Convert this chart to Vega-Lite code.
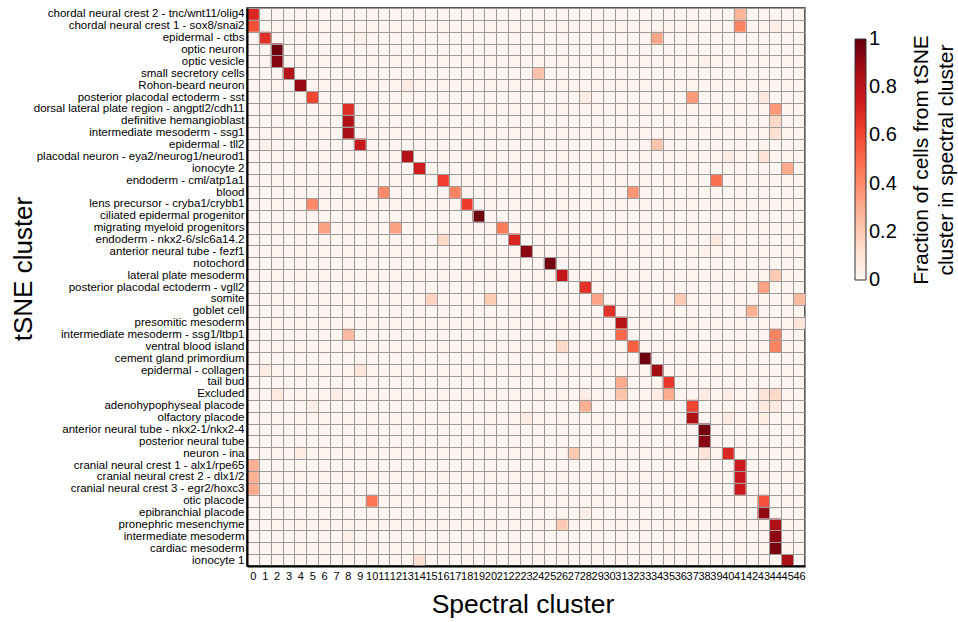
{
  "$schema": "https://vega.github.io/schema/vega-lite/v6.json",
  "width": 558,
  "height": 558,
  "autosize": "none",
  "padding": {"left": 247, "top": 8, "right": 153, "bottom": 56},
  "background": "white",
  "config": {
    "font": "Liberation Sans",
    "view": {"fill": "#fff5f0", "stroke": "#222222", "strokeWidth": 1.5},
    "axis": {"labelColor": "black", "titleColor": "black", "titleFontWeight": "normal"}
  },
  "data": {"values": [
    {"tsne":"chordal neural crest 2 - tnc/wnt11/olig4","spectral":0,"fraction":0.70},
    {"tsne":"chordal neural crest 2 - tnc/wnt11/olig4","spectral":41,"fraction":0.27},
    {"tsne":"chordal neural crest 1 - sox8/snai2","spectral":0,"fraction":0.58},
    {"tsne":"chordal neural crest 1 - sox8/snai2","spectral":41,"fraction":0.42},
    {"tsne":"chordal neural crest 1 - sox8/snai2","spectral":44,"fraction":0.04},
    {"tsne":"epidermal - ctbs","spectral":1,"fraction":0.67},
    {"tsne":"epidermal - ctbs","spectral":9,"fraction":0.03},
    {"tsne":"epidermal - ctbs","spectral":34,"fraction":0.32},
    {"tsne":"optic neuron","spectral":2,"fraction":0.98},
    {"tsne":"optic vesicle","spectral":2,"fraction":0.94},
    {"tsne":"optic vesicle","spectral":38,"fraction":0.03},
    {"tsne":"small secretory cells","spectral":3,"fraction":0.82},
    {"tsne":"small secretory cells","spectral":24,"fraction":0.23},
    {"tsne":"Rohon-beard neuron","spectral":4,"fraction":0.9},
    {"tsne":"Rohon-beard neuron","spectral":13,"fraction":0.06},
    {"tsne":"posterior placodal ectoderm - sst","spectral":5,"fraction":0.6},
    {"tsne":"posterior placodal ectoderm - sst","spectral":28,"fraction":0.05},
    {"tsne":"posterior placodal ectoderm - sst","spectral":37,"fraction":0.35},
    {"tsne":"posterior placodal ectoderm - sst","spectral":43,"fraction":0.07},
    {"tsne":"dorsal lateral plate region - angptl2/cdh11","spectral":8,"fraction":0.68},
    {"tsne":"dorsal lateral plate region - angptl2/cdh11","spectral":44,"fraction":0.36},
    {"tsne":"definitive hemangioblast","spectral":8,"fraction":0.84},
    {"tsne":"definitive hemangioblast","spectral":44,"fraction":0.15},
    {"tsne":"intermediate mesoderm - ssg1","spectral":8,"fraction":0.87},
    {"tsne":"intermediate mesoderm - ssg1","spectral":44,"fraction":0.12},
    {"tsne":"epidermal - tll2","spectral":1,"fraction":0.03},
    {"tsne":"epidermal - tll2","spectral":9,"fraction":0.76},
    {"tsne":"epidermal - tll2","spectral":34,"fraction":0.22},
    {"tsne":"placodal neuron - eya2/neurog1/neurod1","spectral":13,"fraction":0.83},
    {"tsne":"placodal neuron - eya2/neurog1/neurod1","spectral":40,"fraction":0.05},
    {"tsne":"placodal neuron - eya2/neurog1/neurod1","spectral":43,"fraction":0.11},
    {"tsne":"ionocyte 2","spectral":14,"fraction":0.74},
    {"tsne":"ionocyte 2","spectral":45,"fraction":0.3},
    {"tsne":"endoderm - cml/atp1a1","spectral":16,"fraction":0.62},
    {"tsne":"endoderm - cml/atp1a1","spectral":39,"fraction":0.48},
    {"tsne":"blood","spectral":11,"fraction":0.4},
    {"tsne":"blood","spectral":17,"fraction":0.42},
    {"tsne":"blood","spectral":32,"fraction":0.37},
    {"tsne":"lens precursor - cryba1/crybb1","spectral":5,"fraction":0.4},
    {"tsne":"lens precursor - cryba1/crybb1","spectral":18,"fraction":0.63},
    {"tsne":"ciliated epidermal progenitor","spectral":19,"fraction":0.98},
    {"tsne":"migrating myeloid progenitors","spectral":6,"fraction":0.33},
    {"tsne":"migrating myeloid progenitors","spectral":12,"fraction":0.33},
    {"tsne":"migrating myeloid progenitors","spectral":21,"fraction":0.45},
    {"tsne":"endoderm - nkx2-6/slc6a14.2","spectral":16,"fraction":0.15},
    {"tsne":"endoderm - nkx2-6/slc6a14.2","spectral":22,"fraction":0.7},
    {"tsne":"endoderm - nkx2-6/slc6a14.2","spectral":39,"fraction":0.08},
    {"tsne":"anterior neural tube - fezf1","spectral":23,"fraction":0.92},
    {"tsne":"anterior neural tube - fezf1","spectral":38,"fraction":0.03},
    {"tsne":"notochord","spectral":25,"fraction":0.97},
    {"tsne":"lateral plate mesoderm","spectral":26,"fraction":0.78},
    {"tsne":"lateral plate mesoderm","spectral":44,"fraction":0.2},
    {"tsne":"posterior placodal ectoderm - vgll2","spectral":28,"fraction":0.66},
    {"tsne":"posterior placodal ectoderm - vgll2","spectral":43,"fraction":0.33},
    {"tsne":"somite","spectral":15,"fraction":0.17},
    {"tsne":"somite","spectral":20,"fraction":0.2},
    {"tsne":"somite","spectral":29,"fraction":0.32},
    {"tsne":"somite","spectral":36,"fraction":0.2},
    {"tsne":"somite","spectral":46,"fraction":0.25},
    {"tsne":"goblet cell","spectral":30,"fraction":0.67},
    {"tsne":"goblet cell","spectral":42,"fraction":0.28},
    {"tsne":"presomitic mesoderm","spectral":31,"fraction":0.82},
    {"tsne":"presomitic mesoderm","spectral":46,"fraction":0.1},
    {"tsne":"intermediate mesoderm - ssg1/ltbp1","spectral":8,"fraction":0.25},
    {"tsne":"intermediate mesoderm - ssg1/ltbp1","spectral":31,"fraction":0.5},
    {"tsne":"intermediate mesoderm - ssg1/ltbp1","spectral":44,"fraction":0.42},
    {"tsne":"ventral blood island","spectral":26,"fraction":0.15},
    {"tsne":"ventral blood island","spectral":32,"fraction":0.53},
    {"tsne":"ventral blood island","spectral":44,"fraction":0.42},
    {"tsne":"cement gland primordium","spectral":33,"fraction":0.98},
    {"tsne":"epidermal - collagen","spectral":1,"fraction":0.05},
    {"tsne":"epidermal - collagen","spectral":9,"fraction":0.1},
    {"tsne":"epidermal - collagen","spectral":34,"fraction":0.88},
    {"tsne":"tail bud","spectral":31,"fraction":0.3},
    {"tsne":"tail bud","spectral":35,"fraction":0.65},
    {"tsne":"Excluded","spectral":2,"fraction":0.07},
    {"tsne":"Excluded","spectral":7,"fraction":0.04},
    {"tsne":"Excluded","spectral":28,"fraction":0.04},
    {"tsne":"Excluded","spectral":31,"fraction":0.22},
    {"tsne":"Excluded","spectral":34,"fraction":0.05},
    {"tsne":"Excluded","spectral":35,"fraction":0.3},
    {"tsne":"Excluded","spectral":38,"fraction":0.06},
    {"tsne":"Excluded","spectral":40,"fraction":0.04},
    {"tsne":"Excluded","spectral":43,"fraction":0.1},
    {"tsne":"Excluded","spectral":44,"fraction":0.15},
    {"tsne":"adenohypophyseal placode","spectral":5,"fraction":0.04},
    {"tsne":"adenohypophyseal placode","spectral":28,"fraction":0.28},
    {"tsne":"adenohypophyseal placode","spectral":37,"fraction":0.6},
    {"tsne":"adenohypophyseal placode","spectral":43,"fraction":0.07},
    {"tsne":"adenohypophyseal placode","spectral":44,"fraction":0.07},
    {"tsne":"olfactory placode","spectral":23,"fraction":0.05},
    {"tsne":"olfactory placode","spectral":37,"fraction":0.84},
    {"tsne":"olfactory placode","spectral":40,"fraction":0.06},
    {"tsne":"olfactory placode","spectral":43,"fraction":0.05},
    {"tsne":"anterior neural tube - nkx2-1/nkx2-4","spectral":38,"fraction":0.97},
    {"tsne":"posterior neural tube","spectral":38,"fraction":0.93},
    {"tsne":"neuron - ina","spectral":4,"fraction":0.05},
    {"tsne":"neuron - ina","spectral":27,"fraction":0.2},
    {"tsne":"neuron - ina","spectral":38,"fraction":0.1},
    {"tsne":"neuron - ina","spectral":40,"fraction":0.7},
    {"tsne":"cranial neural crest 1 - alx1/rpe65","spectral":0,"fraction":0.28},
    {"tsne":"cranial neural crest 1 - alx1/rpe65","spectral":41,"fraction":0.75},
    {"tsne":"cranial neural crest 2 - dlx1/2","spectral":0,"fraction":0.28},
    {"tsne":"cranial neural crest 2 - dlx1/2","spectral":41,"fraction":0.76},
    {"tsne":"cranial neural crest 3 - egr2/hoxc3","spectral":0,"fraction":0.3},
    {"tsne":"cranial neural crest 3 - egr2/hoxc3","spectral":41,"fraction":0.75},
    {"tsne":"otic placode","spectral":10,"fraction":0.47},
    {"tsne":"otic placode","spectral":43,"fraction":0.57},
    {"tsne":"epibranchial placode","spectral":28,"fraction":0.04},
    {"tsne":"epibranchial placode","spectral":43,"fraction":0.91},
    {"tsne":"pronephric mesenchyme","spectral":26,"fraction":0.2},
    {"tsne":"pronephric mesenchyme","spectral":44,"fraction":0.84},
    {"tsne":"intermediate mesoderm","spectral":8,"fraction":0.04},
    {"tsne":"intermediate mesoderm","spectral":44,"fraction":0.92},
    {"tsne":"cardiac mesoderm","spectral":44,"fraction":0.96},
    {"tsne":"ionocyte 1","spectral":14,"fraction":0.12},
    {"tsne":"ionocyte 1","spectral":45,"fraction":0.86}
  ]},
  "mark": {"type": "rect"},
  "encoding": {
    "x": {
      "field": "spectral", "type": "ordinal",
      "scale": {"domain": [0,1,2,3,4,5,6,7,8,9,10,11,12,13,14,15,16,17,18,19,20,21,22,23,24,25,26,27,28,29,30,31,32,33,34,35,36,37,38,39,40,41,42,43,44,45,46]},
      "axis": {
        "title": "Spectral cluster", "titleFontSize": 26.5, "titlePadding": 10, "titleX": 275.5,
        "labelAngle": 0, "labelFontSize": 11, "labelPadding": 4, "labelOverlap": false, "labelBound": false,
        "ticks": false, "grid": true, "gridColor": "#9a9a9a", "gridWidth": 1, "tickBand": "extent",
        "domainColor": "black", "domainWidth": 2, "zindex": 1
      }
    },
    "y": {
      "field": "tsne", "type": "nominal",
      "scale": {"domain": [
        "chordal neural crest 2 - tnc/wnt11/olig4",
        "chordal neural crest 1 - sox8/snai2",
        "epidermal - ctbs",
        "optic neuron",
        "optic vesicle",
        "small secretory cells",
        "Rohon-beard neuron",
        "posterior placodal ectoderm - sst",
        "dorsal lateral plate region - angptl2/cdh11",
        "definitive hemangioblast",
        "intermediate mesoderm - ssg1",
        "epidermal - tll2",
        "placodal neuron - eya2/neurog1/neurod1",
        "ionocyte 2",
        "endoderm - cml/atp1a1",
        "blood",
        "lens precursor - cryba1/crybb1",
        "ciliated epidermal progenitor",
        "migrating myeloid progenitors",
        "endoderm - nkx2-6/slc6a14.2",
        "anterior neural tube - fezf1",
        "notochord",
        "lateral plate mesoderm",
        "posterior placodal ectoderm - vgll2",
        "somite",
        "goblet cell",
        "presomitic mesoderm",
        "intermediate mesoderm - ssg1/ltbp1",
        "ventral blood island",
        "cement gland primordium",
        "epidermal - collagen",
        "tail bud",
        "Excluded",
        "adenohypophyseal placode",
        "olfactory placode",
        "anterior neural tube - nkx2-1/nkx2-4",
        "posterior neural tube",
        "neuron - ina",
        "cranial neural crest 1 - alx1/rpe65",
        "cranial neural crest 2 - dlx1/2",
        "cranial neural crest 3 - egr2/hoxc3",
        "otic placode",
        "epibranchial placode",
        "pronephric mesenchyme",
        "intermediate mesoderm",
        "cardiac mesoderm",
        "ionocyte 1"
      ]},
      "axis": {
        "title": "tSNE cluster", "titleFontSize": 26, "titlePadding": 11, "titleY": 260.5,
        "labelFontSize": 11.5, "labelPadding": 3, "labelLimit": 400,
        "ticks": false, "grid": true, "gridColor": "#9a9a9a", "gridWidth": 1, "tickBand": "extent",
        "domainColor": "black", "domainWidth": 2, "zindex": 1
      }
    },
    "color": {
      "field": "fraction", "type": "quantitative",
      "scale": {
        "type": "linear",
        "domain": [0, 0.125, 0.25, 0.375, 0.5, 0.625, 0.75, 0.875, 1],
        "range": ["#fff5f0", "#fee0d2", "#fcbba1", "#fc9272", "#fb6a4a", "#ef3b2c", "#cb181d", "#a50f15", "#67000d"]
      },
      "legend": {
        "orient": "none", "legendX": 608, "legendY": 31, "direction": "vertical", "padding": 0,
        "gradientLength": 241, "gradientThickness": 11,
        "gradientStrokeColor": "#333333", "gradientStrokeWidth": 1,
        "values": [0, 0.2, 0.4, 0.6, 0.8, 1], "format": "~g",
        "labelFontSize": 20, "labelOffset": 3, "labelColor": "black", "labelBaseline": "middle",
        "title": ["Fraction of cells from tSNE", "cluster in spectral cluster"],
        "titleOrient": "right", "titleAnchor": "middle", "titleFontSize": 21, "titleFontWeight": "normal",
        "titleColor": "black", "titleLineHeight": 25, "titlePadding": 14, "titleLimit": 500,
        "encode": {
          "title": {"update": {"angle": {"value": -90}, "baseline": {"value": "top"}, "dx": {"value": -13}}},
          "labels": {"update": {"baseline": {"value": "middle"}}}
        }
      }
    }
  }
}
